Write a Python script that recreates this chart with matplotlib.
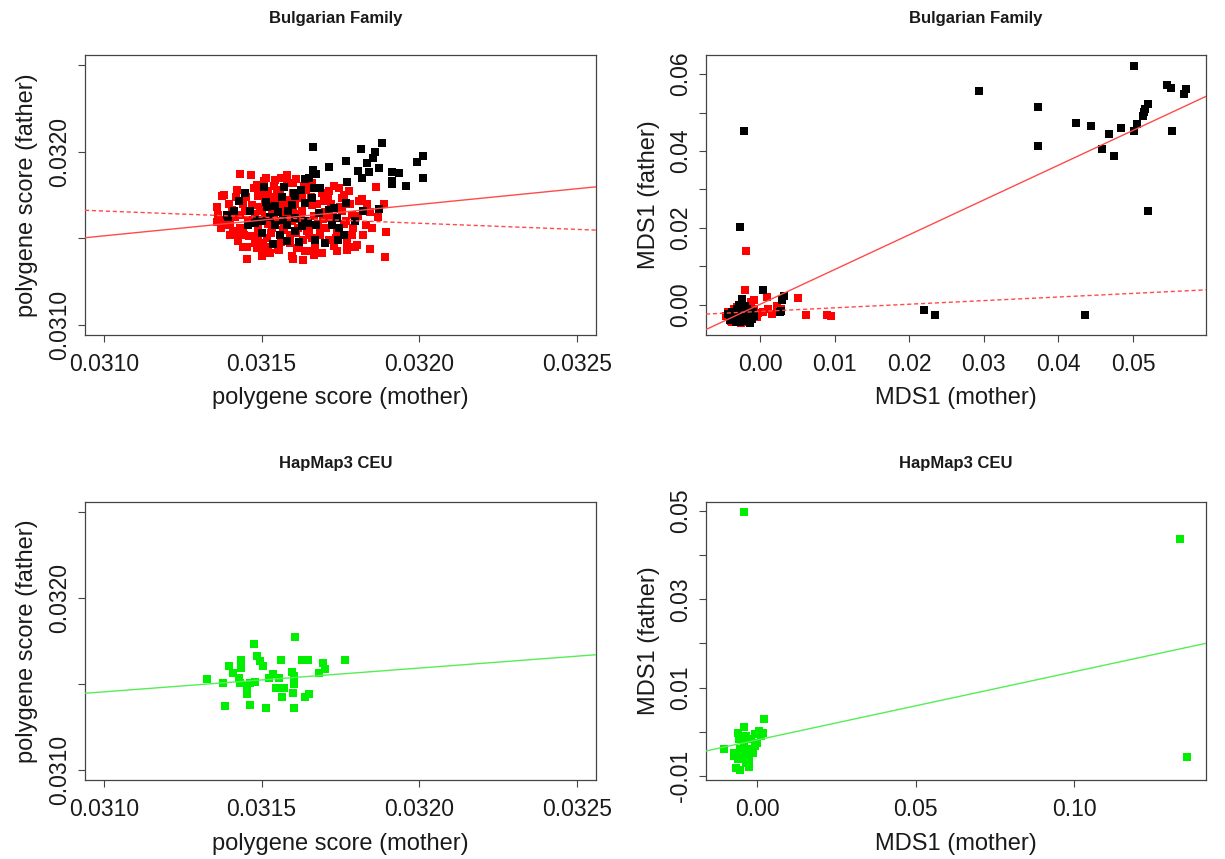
"""Mother vs father scatter panels: polygene score and MDS1, Bulgarian family vs HapMap3 CEU."""

import matplotlib
matplotlib.use("Agg")
import matplotlib.pyplot as plt
import numpy as np

plt.rcParams["font.family"] = ["Liberation Sans", "DejaVu Sans"]

# polygene scores, stored in units of 1e-6: (mother, father)
bg_poly_black = [
    (31664, 32029), (31814, 32017), (31883, 32052), (31860, 32000), (31852, 31962),
    (31833, 31933), (31769, 31945), (31712, 31913), (31663, 31893), (31671, 31870),
    (31807, 31890), (31841, 31884), (31871, 31907), (31817, 31847), (31772, 31824),
    (31993, 31942), (32012, 31977), (32011, 31847), (31912, 31884), (31936, 31879),
    (31912, 31812), (31957, 31803), (31914, 31829), (31871, 31670), (31820, 31659),
    (31766, 31702), (31796, 31598), (31666, 31789), (31686, 31792), (31650, 31847),
    (31659, 31731), (31729, 31673), (31715, 31665), (31682, 31644), (31647, 31587),
    (31671, 31578), (31739, 31616), (31745, 31558), (31761, 31520), (31742, 31491),
    (31702, 31471), (31669, 31491), (31723, 31578), (31636, 31844), (31508, 31795),
    (31572, 31798), (31448, 31763), (31604, 31763), (31626, 31780), (31429, 31717),
    (31513, 31711), (31563, 31737), (31607, 31743), (31543, 31685), (31596, 31694),
    (31639, 31705), (31464, 31659), (31516, 31679), (31551, 31653), (31585, 31659),
    (31413, 31659), (31389, 31636), (31485, 31607), (31501, 31598), (31528, 31621),
    (31569, 31607), (31607, 31618), (31639, 31598), (31458, 31578), (31480, 31590),
    (31543, 31578), (31580, 31578), (31628, 31569), (31501, 31532), (31559, 31520),
    (31607, 31540), (31537, 31468), (31617, 31480), (31580, 31483), (31394, 31624),
]
bg_poly_red = [
    (31432, 31873), (31467, 31867), (31513, 31850), (31543, 31838), (31580, 31867),
    (31381, 31751), (31421, 31780), (31485, 31809), (31362, 31633), (31358, 31595),
    (31394, 31578), (31410, 31543), (31426, 31512), (31445, 31520), (31424, 31483),
    (31474, 31512), (31485, 31445), (31501, 31428), (31528, 31416), (31453, 31381),
    (31501, 31396), (31596, 31396), (31553, 31439), (31632, 31376), (31448, 31656),
    (31405, 31665), (31489, 31743), (31521, 31772), (31559, 31780), (31469, 31694),
    (31432, 31636), (31501, 31656), (31532, 31656), (31458, 31607), (31532, 31561),
    (31489, 31561), (31569, 31549), (31516, 31503), (31591, 31520), (31644, 31540),
    (31564, 31483), (31612, 31445), (31639, 31425), (31385, 31607), (31442, 31549),
    (31480, 31474), (31512, 31723), (31548, 31714), (31585, 31723), (31628, 31734),
    (31628, 31656), (31559, 31598), (31863, 31798), (31818, 31728), (31888, 31696),
    (31845, 31650), (31831, 31578), (31895, 31535), (31845, 31439), (31891, 31390),
    (31802, 31462), (31771, 31471), (31739, 31425), (31713, 31491), (31777, 31772),
    (31745, 31789), (31787, 31636), (31755, 31731), (31766, 31598), (31713, 31772),
    (31698, 31714), (31702, 31616), (31755, 31656), (31686, 31540), (31650, 31520),
    (31655, 31425), (31691, 31413), (31729, 31454), (31787, 31520), (31809, 31714),
    (31375, 31743), (31560, 31690), (31600, 31650), (31620, 31610), (31660, 31690),
    (31680, 31580), (31700, 31650), (31720, 31700), (31740, 31540), (31610, 31530),
    (31520, 31580), (31480, 31640), (31440, 31700), (31500, 31760), (31580, 31820),
    (31640, 31780), (31690, 31760), (31560, 31480), (31620, 31460), (31660, 31500),
    (31700, 31470), (31520, 31450), (31460, 31510), (31400, 31590), (31360, 31680),
    (31420, 31740), (31540, 31800), (31610, 31840), (31650, 31560), (31580, 31620),
    (31540, 31640), (31601, 31381), (31667, 31402), (31771, 31434), (31795, 31451),
    (31601, 31821), (31508, 31832), (31395, 31700), (31415, 31620), (31430, 31560),
    (31450, 31740), (31455, 31450), (31470, 31600), (31475, 31790), (31490, 31520),
    (31495, 31680), (31505, 31470), (31510, 31620), (31525, 31740), (31530, 31530),
    (31535, 31690), (31545, 31600), (31550, 31760), (31555, 31430), (31565, 31650),
    (31570, 31560), (31575, 31700), (31590, 31470), (31595, 31600), (31600, 31760),
    (31605, 31700), (31615, 31560), (31625, 31640), (31630, 31490), (31635, 31800),
    (31645, 31600), (31655, 31740), (31665, 31630), (31670, 31450), (31675, 31700),
    (31685, 31520), (31695, 31610), (31705, 31560), (31710, 31740), (31725, 31620),
    (31735, 31500), (31750, 31680), (31760, 31580), (31780, 31700), (31790, 31560),
    (31805, 31630), (31820, 31520), (31835, 31700), (31850, 31560), (31870, 31620),
    (31760, 31750), (31730, 31800), (31440, 31450), (31370, 31560), (31400, 31520),
    (31560, 31850), (31660, 31820),
]
ceu_poly = [
    (31328, 31526), (31379, 31507), (31397, 31607), (31434, 31642), (31434, 31594),
    (31409, 31561), (31427, 31536), (31430, 31507), (31477, 31732), (31485, 31665),
    (31496, 31632), (31504, 31603), (31454, 31487), (31464, 31507), (31480, 31510),
    (31454, 31439), (31385, 31372), (31464, 31376), (31515, 31357), (31522, 31536),
    (31536, 31555), (31554, 31536), (31562, 31638), (31547, 31478), (31572, 31478),
    (31565, 31426), (31605, 31776), (31597, 31568), (31602, 31545), (31604, 31497),
    (31600, 31449), (31604, 31362), (31628, 31638), (31646, 31638), (31636, 31426),
    (31649, 31439), (31681, 31561), (31695, 31622), (31702, 31588), (31764, 31642),
]

# MDS1: (mother, father)
bg_mds_black = [
    (0.0502, 0.0622), (0.0294, 0.0555), (0.0373, 0.0514), (0.0373, 0.0413), (0.0424, 0.0473),
    (0.0444, 0.0464), (0.0468, 0.0444), (0.0459, 0.0404), (0.0475, 0.0387), (0.0484, 0.0459),
    (0.0502, 0.0453), (0.0506, 0.0470), (0.0513, 0.0492), (0.0516, 0.0510), (0.0520, 0.0523),
    (0.0515, 0.0501), (0.0546, 0.0573), (0.0551, 0.0564), (0.0552, 0.0453), (0.0568, 0.0549),
    (0.0571, 0.0561), (0.0520, 0.0245), (0.0435, -0.0026), (0.0220, -0.0014), (0.0235, -0.0028),
    (-0.0022, 0.0451), (-0.0028, 0.0202), (0.0004, 0.0039), (0.0032, 0.0022), (0.0029, 0.0011),
    (0.0026, -0.0018), (-0.0024, 0.0015), (0.0028, -0.0017),
    (-0.0044, -0.0025), (-0.0040, -0.0032), (-0.0038, -0.0018), (-0.0036, -0.0040),
    (-0.0034, -0.0028), (-0.0032, -0.0012), (-0.0031, -0.0036), (-0.0030, -0.0022),
    (-0.0028, -0.0045), (-0.0027, -0.0030), (-0.0026, -0.0015), (-0.0025, -0.0038),
    (-0.0024, -0.0024), (-0.0023, -0.0008), (-0.0022, -0.0033), (-0.0021, -0.0019),
    (-0.0020, -0.0042), (-0.0019, -0.0027), (-0.0018, -0.0012), (-0.0017, -0.0035),
    (-0.0016, -0.0022), (-0.0015, -0.0030), (-0.0014, -0.0048), (-0.0013, -0.0017),
    (-0.0012, -0.0026), (-0.0011, -0.0038), (-0.0010, -0.0020), (-0.0029, 0.0000),
    (-0.0033, -0.0046), (-0.0041, -0.0040), (-0.0009, -0.0030), (-0.0020, -0.0003),
]
bg_mds_red = [
    (-0.0019, 0.0140), (-0.0021, 0.0037), (0.0051, 0.0017), (0.0061, -0.0026), (0.0090, -0.0027),
    (0.0095, -0.0029), (0.0009, 0.0019), (0.0022, -0.0003), (0.0003, -0.0020), (0.0010, -0.0011),
    (-0.0008, 0.0011), (-0.0013, -0.0003), (-0.0044, -0.0027), (-0.0039, -0.0042), (0.0028, -0.0011),
    (0.0015, -0.0025), (-0.0046, -0.0030), (-0.0043, -0.0018), (-0.0038, -0.0046), (-0.0032, -0.0005),
    (-0.0026, -0.0049), (-0.0018, -0.0046), (-0.0008, -0.0012), (-0.0005, -0.0032), (-0.0003, -0.0022),
    (-0.0012, 0.0006), (-0.0035, -0.0010),
]
ceu_mds = [
    (-0.0041, 0.0498), (0.1333, 0.0437), (0.1355, -0.0057), (-0.0103, -0.0038), (0.0021, 0.0029),
    (-0.0042, 0.0010), (-0.0061, -0.0002), (-0.0057, -0.0017), (-0.0018, -0.0017), (0.0006, 0.0002),
    (0.0012, -0.0009), (0.0000, -0.0025), (-0.0006, -0.0032), (-0.0042, -0.0025), (-0.0030, -0.0040),
    (-0.0073, -0.0047), (-0.0049, -0.0055), (-0.0061, -0.0061), (-0.0024, -0.0063), (-0.0067, -0.0082),
    (-0.0055, -0.0086), (-0.0024, -0.0079), (-0.0036, -0.0070), (-0.0055, -0.0040), (-0.0073, -0.0055),
    (-0.0006, -0.0006), (-0.0012, -0.0047), (-0.0030, -0.0055), (-0.0036, -0.0009), (0.0018, -0.0002),
]

# regression lines: (intercept, slope)
bg_poly_fit_solid = (0.025881, 0.1817)
bg_poly_fit_dashed = (0.033852, -0.0708)
bg_mds_fit_solid = (0.00013, 0.9046)
bg_mds_fit_dashed = (-0.00176, 0.0939)
ceu_poly_fit = (0.027157, 0.1386)
ceu_mds_fit = (-0.00185, 0.1546)

poly_ticks = [0.0310, 0.0315, 0.0320, 0.0325]
poly_xlabels = ["0.0310", "0.0315", "0.0320", "0.0325"]
poly_ylabels = ["0.0310", "", "0.0320", ""]
bg_mds_xticks = [0.00, 0.01, 0.02, 0.03, 0.04, 0.05]
bg_mds_xlabels = ["0.00", "0.01", "0.02", "0.03", "0.04", "0.05"]
bg_mds_yticks = [0.00, 0.01, 0.02, 0.03, 0.04, 0.05, 0.06]
bg_mds_ylabels = ["0.00", "", "0.02", "", "0.04", "", "0.06"]
ceu_mds_xticks = [0.00, 0.05, 0.10]
ceu_mds_xlabels = ["0.00", "0.05", "0.10"]
ceu_mds_yticks = [-0.01, 0.00, 0.01, 0.02, 0.03, 0.04, 0.05]
ceu_mds_ylabels = ["-0.01", "", "0.01", "", "0.03", "", "0.05"]

RED = "#ff0000"
GREEN = "#00ee00"
FIT_RED = "#ff4a4a"
FIT_GREEN = "#55ee55"
AX_COL = "#444444"


def pairs(pts, scale=1.0):
    arr = np.array(pts, dtype=float) * scale
    return arr[:, 0], arr[:, 1]


def dots(ax, pts, color, scale=1.0):
    x, y = pairs(pts, scale)
    ax.plot(x, y, "s", ms=6, mew=0, color=color, zorder=3)


def fit_line(ax, fit, color, ls="-"):
    b, m = fit
    ax.axline((0.0, b), slope=m, color=color, lw=1.0, ls=ls, zorder=4)


def style(ax, xlim, ylim, xt, xl, yt, yl, xlab, ylab, title, title_xy, xlab_y):
    ax.set_xlim(*xlim)
    ax.set_ylim(*ylim)
    ax.set_xticks(xt)
    ax.set_xticklabels(xl)
    ax.set_yticks(yt)
    ax.set_yticklabels(yl, rotation=90, va="center")
    ax.tick_params(direction="out", length=5, width=0.8, color=AX_COL,
                   labelsize=16.5, labelcolor="#1a1a1a")
    ax.tick_params(axis="x", pad=8)
    ax.tick_params(axis="y", pad=5)
    for sp in ax.spines.values():
        sp.set_color(AX_COL)
        sp.set_linewidth(0.9)
    ax.set_xlabel(xlab, fontsize=17, color="#1a1a1a")
    ax.set_ylabel(ylab, fontsize=17, color="#1a1a1a")
    ax.xaxis.set_label_coords(0.5, xlab_y)
    ax.yaxis.set_label_coords(-0.092, 0.5)
    ax.text(title_xy[0], title_xy[1], title, transform=ax.transAxes, ha="center",
            va="center", fontsize=12, fontweight="bold", color="#1a1a1a")


def main():
    fig = plt.figure(figsize=(12.25, 8.59), dpi=100)
    ax_tl = fig.add_axes([0.0694, 0.6100, 0.4171, 0.3260])
    ax_tr = fig.add_axes([0.5763, 0.6100, 0.4082, 0.3260])
    ax_bl = fig.add_axes([0.0694, 0.0920, 0.4171, 0.3236])
    ax_br = fig.add_axes([0.5763, 0.0920, 0.4082, 0.3236])

    poly_lim = (0.03094, 0.03256)

    dots(ax_tl, bg_poly_red, RED, 1e-6)
    dots(ax_tl, bg_poly_black, "black", 1e-6)
    fit_line(ax_tl, bg_poly_fit_solid, FIT_RED)
    fit_line(ax_tl, bg_poly_fit_dashed, FIT_RED, ls=(0, (3, 2)))
    style(ax_tl, poly_lim, poly_lim, poly_ticks, poly_xlabels, poly_ticks, poly_ylabels,
          "polygene score (mother)", "polygene score (father)", "Bulgarian Family",
          (0.49, 1.132), -0.185)

    dots(ax_tr, bg_mds_red, RED)
    dots(ax_tr, bg_mds_black, "black")
    fit_line(ax_tr, bg_mds_fit_solid, FIT_RED)
    fit_line(ax_tr, bg_mds_fit_dashed, FIT_RED, ls=(0, (3, 2)))
    style(ax_tr, (-0.0073, 0.0598), (-0.0079, 0.0650), bg_mds_xticks, bg_mds_xlabels,
          bg_mds_yticks, bg_mds_ylabels, "MDS1 (mother)", "MDS1 (father)",
          "Bulgarian Family", (0.54, 1.132), -0.185)

    dots(ax_bl, ceu_poly, GREEN, 1e-6)
    fit_line(ax_bl, ceu_poly_fit, FIT_GREEN)
    style(ax_bl, poly_lim, poly_lim, poly_ticks, poly_xlabels, poly_ticks, poly_ylabels,
          "polygene score (mother)", "polygene score (father)", "HapMap3 CEU",
          (0.49, 1.14), -0.19)

    dots(ax_br, ceu_mds, GREEN)
    fit_line(ax_br, ceu_mds_fit, FIT_GREEN)
    style(ax_br, (-0.0161, 0.1415), (-0.0109, 0.0520), ceu_mds_xticks, ceu_mds_xlabels,
          ceu_mds_yticks, ceu_mds_ylabels, "MDS1 (mother)", "MDS1 (father)",
          "HapMap3 CEU", (0.5, 1.14), -0.19)

    fig.savefig("out.png", dpi=100)
    plt.close(fig)


if __name__ == "__main__":
    main()
